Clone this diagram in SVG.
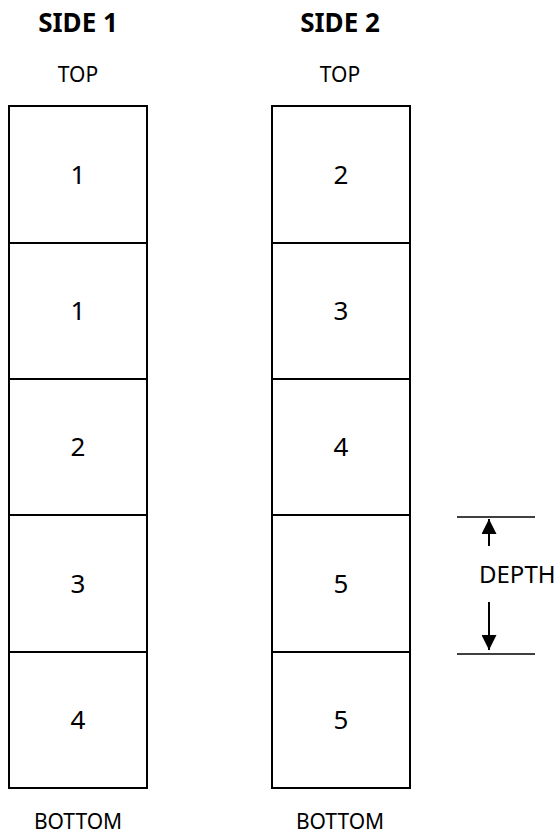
<svg xmlns="http://www.w3.org/2000/svg" width="558" height="834" viewBox="0 0 558 834">
<style>
text{font-family:"Noto Sans","Open Sans",sans-serif;fill:#000;text-anchor:middle}
.h{font-weight:bold;font-size:26px}
.l{font-size:21px}
.n{font-size:26px}
.box{fill:#fff;stroke:#000;stroke-width:2}
.ln{stroke:#000;stroke-width:1.5;fill:none}
.dv{stroke:#000;stroke-width:2}
</style>
<defs>
<marker id="ah" viewBox="0 0 10 10" refX="10" refY="5" markerWidth="15" markerHeight="15" markerUnits="userSpaceOnUse" orient="auto"><path d="M0,0 L10,5 L0,10 z" fill="#000"/></marker>
</defs>
<g id="labels">
<text class="h" x="78" y="32">SIDE 1</text>
<text class="h" x="340" y="32">SIDE 2</text>
<text class="l" x="78" y="82">TOP</text>
<text class="l" x="340" y="82">TOP</text>
<text class="l" x="78" y="829">BOTTOM</text>
<text class="l" x="340" y="829">BOTTOM</text>
</g>
<g id="side1">
<rect class="box" x="9" y="106" width="138" height="682"/>
<line class="dv" x1="9" y1="243" x2="147" y2="243"/>
<line class="dv" x1="9" y1="379" x2="147" y2="379"/>
<line class="dv" x1="9" y1="515" x2="147" y2="515"/>
<line class="dv" x1="9" y1="652" x2="147" y2="652"/>
<text class="n" x="78" y="184">1</text>
<text class="n" x="78" y="320">1</text>
<text class="n" x="78" y="456">2</text>
<text class="n" x="78" y="593">3</text>
<text class="n" x="78" y="729">4</text>
</g>
<g id="side2">
<rect class="box" x="272" y="106" width="138" height="682"/>
<line class="dv" x1="272" y1="243" x2="410" y2="243"/>
<line class="dv" x1="272" y1="379" x2="410" y2="379"/>
<line class="dv" x1="272" y1="515" x2="410" y2="515"/>
<line class="dv" x1="272" y1="652" x2="410" y2="652"/>
<text class="n" x="341" y="184">2</text>
<text class="n" x="341" y="320">3</text>
<text class="n" x="341" y="456">4</text>
<text class="n" x="341" y="593">5</text>
<text class="n" x="341" y="729">5</text>
</g>
<g id="depth">
<line class="ln" x1="457" y1="517" x2="535" y2="517"/>
<line class="ln" x1="457" y1="654" x2="535" y2="654"/>
<text class="l" x="479" y="583" style="text-anchor:start;font-size:24px">DEPTH</text>
</g>
<g id="connectors">
<line class="ln" x1="489" y1="546" x2="489" y2="519" marker-end="url(#ah)" style="stroke-width:2"/>
<line class="ln" x1="489" y1="602" x2="489" y2="650" marker-end="url(#ah)" style="stroke-width:2"/>
</g>
</svg>
